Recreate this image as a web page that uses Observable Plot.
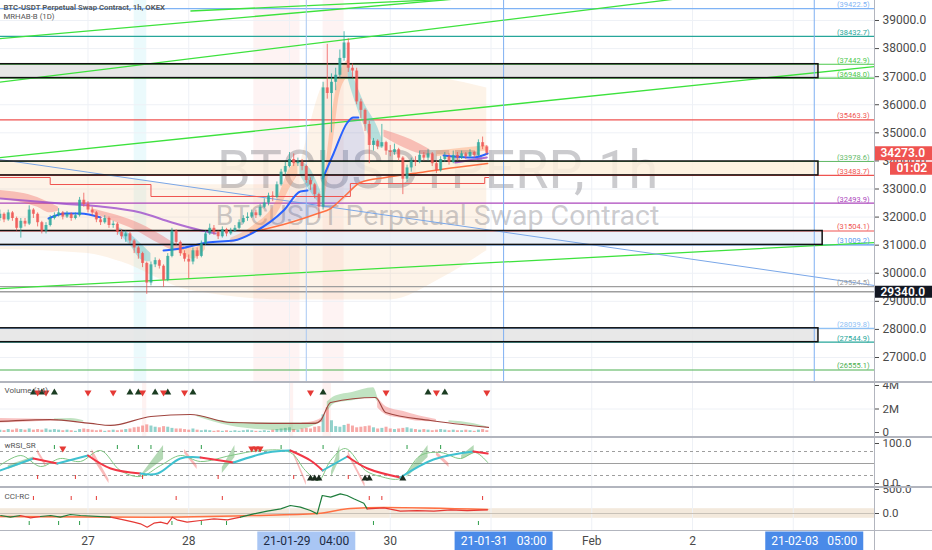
<!DOCTYPE html>
<html><head><meta charset="utf-8">
<script src="https://cdn.jsdelivr.net/npm/d3@7"></script>
<script src="https://cdn.jsdelivr.net/npm/@observablehq/plot@0.6"></script>
<style>
body{margin:0;background:#fff;}
#chart{position:relative;width:932px;height:550px;overflow:hidden;background:#fff;font-family:Roboto,"Noto Sans",sans-serif;}
#chart > *{position:absolute;}
.sep{background:#b2b5be;}
</style></head><body><div id="chart"></div>
<script>
// ---------------- DATA ----------------
// hours counted from 2021-01-29 00:00; first candle 2021-01-26 03:00
const candleStartHour = -69;
const firstOpen = 31950;
const close = [32100,31900,32150,31950,31600,31850,31750,32250,32100,31800,
 31500,31700,31950,32050,32150,32000,32100,31950,32050,32600,
 32450,32250,32150,31900,31800,31950,31700,31750,31450,31300,
 31400,31150,30900,30700,30350,29650,30300,30450,30250,29750,
 30600,31500,31100,30700,30500,30400,30800,30600,31050,31400,
 31600,31450,31300,31550,31400,31500,31600,31800,31950,32000,
 32150,32050,32350,32500,32750,32700,33150,33600,33800,34050,
 33900,33950,33800,33300,33150,32800,32350,36600,36400,36800,
 37050,37650,38200,37300,37200,36100,35800,35300,34550,34700,
 34500,34650,34350,34300,34400,34100,33350,33750,34000,33950,
 34200,34100,34250,33900,33650,34050,34150,33950,34200,34100,
 34250,34150,34300,34200,34650,34500,34273];
const high = [32250,32150,32250,32200,32000,31950,31950,32400,32300,32150,
 31850,31800,32050,32150,32300,32200,32200,32150,32150,32700,
 32850,32550,32350,32200,32000,32050,32000,31850,31800,31550,
 31500,31450,31200,30950,30750,30400,30400,30550,30500,30300,
 30700,31600,31550,31150,30800,30650,30900,30900,31150,31500,
 31750,31700,31500,31650,31600,31600,31700,31900,32050,32150,
 32250,32250,32450,32650,32850,32900,33250,33700,33950,34300,
 34250,34100,34050,33850,33400,33200,32850,36800,38150,37100,
 37300,37950,38600,38350,37450,37300,36200,35850,35400,34800,
 34750,35300,34700,34550,34600,34450,34150,33850,34100,34150,
 34350,34300,34400,34300,34000,34150,34300,34250,34350,34300,
 34350,34300,34400,34350,34750,34850,34550];
const low = [31850,31800,31850,31850,31500,31250,31650,31700,31950,31650,
 31400,31400,31650,31900,32000,31900,31950,31850,31900,32000,
 32350,32150,32050,31800,31700,31750,31600,31600,31350,31200,
 31100,31050,30700,30500,30200,29250,29550,30200,30150,29500,
 29700,30550,31000,30600,30400,29800,30300,30500,30550,31000,
 31350,31350,31200,31250,31300,31350,31450,31550,31750,31850,
 31950,31950,32000,32300,32400,32550,32650,33100,33500,33750,
 33800,33800,33650,33200,32950,32650,31950,32250,36200,35000,
 36500,36950,37550,37150,36950,36000,35500,35050,33900,34350,
 34400,34450,34200,34150,34200,34000,32800,33250,33600,33800,
 33900,34000,34000,33800,33550,33600,33950,33850,33900,34000,
 34050,34050,34100,34100,34150,34400,34200];
// volume in millions
const volume = [0.2,0.15,0.25,0.2,0.3,0.25,0.2,0.3,0.2,0.25,
 0.2,0.3,0.2,0.25,0.2,0.15,0.2,0.15,0.1,0.25,
 0.3,0.25,0.2,0.15,0.2,0.1,0.15,0.2,0.15,0.2,
 0.25,0.3,0.4,0.45,0.55,0.65,0.55,0.45,0.4,0.5,
 0.45,0.35,0.3,0.3,0.25,0.2,0.3,0.2,0.15,0.2,
 0.15,0.1,0.15,0.1,0.15,0.1,0.15,0.1,0.15,0.2,
 0.15,0.1,0.1,0.15,0.1,0.2,0.25,0.3,0.35,0.4,
 0.25,0.2,0.3,0.35,0.3,0.45,0.5,1.5,2.1,1.0,
 0.5,0.45,0.6,0.7,0.55,0.4,0.45,0.5,0.55,0.4,
 0.3,0.35,0.45,0.3,0.25,0.3,0.35,0.4,0.3,0.25,
 0.2,0.25,0.2,0.15,0.2,0.25,0.2,0.15,0.2,0.15,
 0.15,0.2,0.15,0.1,0.2,0.25,0.15];

const levelPrices = [39422.5,38432.7,37442.9,36948.0,35463.3,33978.6,33483.7,32493.9,31504.1,31009.2,29524.5,28039.8,27544.9,26555.1];
const zoneTop = [37442.9,33978.6,31504.1,28039.8];
const zoneBottom = [36948.0,33483.7,31009.2,27544.9];
const zoneStartHour = [-72,-72,-72,-72];
const zoneEndHour = [126,126,127,126];
const markPrice = 29340;
const lastPrice = 34273;
const countdown = "01:02";

const trendX1 = [-69,-23.6,-69,-69,-69,-69];
const trendY1 = [38357,39338,36807,34116,29455,34050];
const trendX2 = [60,50,100,139.35,139.35,139.35];
const trendY2 = [40030,39840,39913,37360,31094,29563];
const trendKind = ["green","green","green","green","green","blue"];

const vlineHours = [4,51,125];
const priceTicks = [27000,28000,29000,30000,31000,32000,33000,34000,35000,36000,37000,38000,39000];
const dayHours = [-48,-24,0,24,48,72,96,120];

// session shading (hours)
const bandStart = [-37,-8.5,8];
const bandEnd = [-34,2.5,13];
const bandKind = ["blue","pink","pink"];

// MRHAB (1D) shading
const mrHour = [-69,-48,-40,-24,0,8,13,24,36,47];
const mrTop = [33900,33900,33500,33150,33150,36700,37300,37200,36950,36600];
const mrBottom = [30850,30700,30400,29400,29050,29050,29050,29050,29800,30800];

// moving-average ribbons on price
const ribHour = [-69,-60,-57,-55, -47,-42,-37,-31,-27,-25, -41,-38,-35,-33, -26,-23,-20,
 -14,-9,-3,0,2, 2.5,5,7.5, 8,9,10.5,12,14, 14,15,18,21,22, 22.5,29,33.5, 35,41,47];
const ribTop = [32950,32700,32500,32350, 32300,32100,31850,31400,31050,30950, 31650,31400,31000,30700, 30950,30900,31100,
 31250,31650,32600,33700,34000, 34000,33700,32900, 32700,34200,36000,37100,37600, 37500,37100,36000,35200,34800, 35100,34750,34400, 34350,34450,34550];
const ribBottom = [32650,32350,32150,32220, 32150,31850,31550,31050,30800,30820, 31450,31000,30450,30400, 30700,30500,30850,
 31050,31400,32100,33000,33500, 33500,32900,32400, 32350,33200,34800,36400,37000, 36900,36400,35200,34500,34450, 34850,34350,34150, 34150,34250,34350];
const ribSeg = [0,0,0,0, 1,1,1,1,1,1, 2,2,2,2, 3,3,3, 4,4,4,4,4, 5,5,5, 6,6,6,6,6, 7,7,7,7,7, 8,8,8, 9,9,9];
const ribKind = ["down","down","down","down","down","down","down","down","down","down","cool","cool","cool","cool","up","up","up",
 "up","up","up","up","up","cool","cool","cool","up","up","up","up","up","cool","cool","cool","cool","cool","down","down","down","up","up","up"];

// light-blue fill between blue MA and orange MA
const bfHour = [-9,-1,4,6.7, 8,10.5,13.8,16.4,18];
const bfTop = [31450,32250,32950,33100, 33400,34264,35368,35546,34900];
const bfBottom = [31450,31800,31990,32127, 32300,32380,32700,33150,33250];
const bfSeg = [0,0,0,0,1,1,1,1,1];

const purpleHour = [-69,-54.5,-45,-35.5,-28,-21,-17.6, 39.5,47];
const purplePrice = [32661,32483,32376,32163,31807,31522,31415, 33943,34121];
const purpleSeg = [0,0,0,0,0,0,0,1,1];
const blueHour = [-57.4,-53.4,-49.8,-45, -30,-26,-19.5,-13.3,-8.6,-1.4,2.6,4.3, 7.9,10.5,13.8,15.2,16.4, 36.7,43.8,47.2];
const bluePrice = [31949,32127,32127,31985, 30810,30880,31094,31166,31450,32234,32911,32946, 33373,34264,35368,35546,35546, 34193,34121,34264];
const blueSeg = [0,0,0,0,1,1,1,1,1,1,1,1,2,2,2,2,2,3,3,3];
const orangeHour = [-9.3,0.2,6.7,9.8,13.3,16.9,22.9,31.2,39.5,47.2];
const orangePrice = [31450,31807,32127,32305,32768,33231,33409,33587,33765,33908];
const stepHour = [-69,-57,-33,14.5,46.5,47.5];
const stepPrice = [33409,33160,32733,33196,33409,33409];

// Volume pane
const vmaHour = [-69,-57,-47.4,-42.6,-33,-23.6,-14,0.2,6.2,7.4,9.8,20.5,22.9,33.6,47.4];
const vmaValue = [0.94,1.1,0.77,0.6,1.36,1.53,0.85,0.77,0.77,1.02,2.55,2.98,1.7,1.02,0.43];
const vrHour = [-69,-62,-55, -56,-52,-49, -22,-14,-5,0,4,7, 3,6,8, 9,11,15,20,21, 21,23,27,31,35, 38,44,47];
const vrTop = [1.2,1.15,1.1, 1.15,1.2,1.0, 1.5,0.9,0.8,0.8,0.78,0.9, 0.8,0.95,1.3, 2.6,3.1,3.4,3.8,3.0, 3.0,2.2,1.8,1.4,1.1, 1.0,0.75,0.5];
const vrBottom = [0.8,0.9,1.0, 1.05,0.95,0.9, 1.35,0.55,0.2,0.15,0.35,0.75, 0.75,0.75,0.9, 1.8,2.5,2.7,2.95,2.6, 2.1,1.5,1.2,0.95,0.9, 0.85,0.55,0.4];
const vrSeg = [0,0,0,1,1,1,2,2,2,2,2,2,3,3,3,4,4,4,4,4,5,5,5,5,5,6,6,6];
const vrKind = ["down","down","down","up","up","up","up","up","up","up","up","up","down","down","down","up","up","up","up","up","down","down","down","down","down","up","up","up"];
const volUpHours = [-61,-59,-56,-38,-36,-32,-29,-23,8,33,37];
const volDownHours = [-60,-58,-48,-42,-35,-30,-25,5,23,35,47];

// wRSI_SR pane
const rsiHour = [-69,-61,-55.3,-48,-42.6,-35.5,-31.4,-26,-21.2,-13.3,-5.2,0.2,5,7.9,13.8,18.6,26.4,34.3,43.8,47.2];
const rsiValue = [32.5,62.5,50,70,37.5,25,25,62.5,65,52.5,77.5,82.5,57.5,32.5,67.5,37.5,15,60,80,75];
const rsiFastHour = [-69,-64,-59.3,-54.6,-49.8,-45,-40.3,-35.5,-30.7,-26,-21.2,-14,-6.9,0.2,3.8,6.9,9.8,13.3,18.1,21.7,26.4,31.2,36,40.7,44.3,47.2];
const rsiFastValue = [45,70,42.5,62.5,55,82.5,32.5,17.5,45,70,55,70,82.5,77.5,32.5,7.5,57.5,87.5,32.5,17.5,12.5,70,77.5,62.5,77.5,52.5];
const rrHour = [-67,-61, -35,-30, -16,-13, 10,12, 28,33, 41,44, -60,-58, -47,-43, -25,-22, 1,4, 14,18, 35,38];
const rrTop = [45,66, 25,95, 40,95, 30,95, 25,95, 70,95, 85,50, 85,10, 85,45, 80,5, 80,0, 80,50];
const rrBottom = [35,58, 20,60, 25,65, 15,60, 15,65, 60,75, 75,40, 65,0, 75,35, 70,-5, 70,-10, 70,40];
const rrSeg = [0,0,1,1,2,2,3,3,4,4,5,5,6,6,7,7,8,8,9,9,10,10,11,11];
const rrKind = ["up","up","up","up","up","up","up","up","up","up","up","up","down","down","down","down","down","down","down","down","down","down","down","down"];
const rsiTopTicks = [-56,-41,-36,-33,-21,-2,8,28,36];
const rsiBottomTicks = [-60,-51,-35,-17,1,14];
const rsiDownMarks = [-54,-9,-8,-7];
const rsiUpMarks = [5,6,7,18,19,27];

// CCI-RC pane
const cciHour = [-68.8,-66.5,-64.1,-61.7,-59.3,-56.9,-54.6,-52.2,-49.8,-42.6,-39.5,-37.1,-35.5,-33.9,-32.3,-30.7,-29.1,-27.9,-26.8,-24.4,-21.2,-18,-14.8,-11.7,-8.5,-5.3,-2.1,0.2,2.6,5,6.6,7.8,9.8,12.1,13.7,15.3,17.7,18.5,22.5,26.4,30.4,34.4,38.4,42.3,47.1];
const cciValue = [-42,-76,-42,-90,-62,-42,-76,-21,-42,-76,-132,-181,-215,-285,-201,-181,-215,-76,-132,-181,-146,-111,-132,-76,-7,49,97,167,132,62,-7,375,340,410,375,306,215,97,118,49,62,49,76,62,76];
const sigHour = [-69,-33,-9,6.7,14.5,22.5,47.2];
const sigValue = [-62,-76,-42,0,104,125,83];
const cciTopTicks = [-61,-52,-46,-27,-16,19,22,46];
const cciBottomTicks = [-62,-55,-50,-28,-21,-15,20,45];

// time axis
const timeTickHour = [-48,-24,24,72,96];
const timeTickLabel = ["27","28","30","Feb","2"];
const hlHour = [4,51,125];
const hlLabel = ["21-01-29\u00a0\u00a0\u00a004:00","21-01-31\u00a0\u00a0\u00a003:00","21-02-03\u00a0\u00a0\u00a005:00"];

// ---------------- STYLE ----------------
const G = "#26a69a", R = "#ef5350";
const levelColors = ["#7fb3f5","#26a69a","#4cc94c","#4cc94c","#ef5350","#66bb6a","#ef5350","#ab47bc","#ef5350","#5b9bf0","#9e9e9e","#8fc1f5","#26a69a","#4caf50"];
const zoneFills = ["#e2e2e2","#fdf0dc","#e8eef8","#e4e4e4"];
const ribColor = {down:"#ef5350", up:"#ff8a50", cool:"#26b5c6"};
const bandColor = {blue:"rgba(0,188,212,0.08)", pink:"rgba(239,83,80,0.07)"};
const trendColor = {green:"#3de23d", blue:"#7aa7e8"};
const FONT = "Roboto, 'Noto Sans', sans-serif";
const XD = [-68.84, 139.35];

// ---------------- BUILD ----------------
const candles = close.map((c,i) => ({h: candleStartHour + i, o: i ? close[i-1] : firstOpen, c, hi: high[i], lo: low[i], v: volume[i]}));
candles.forEach(d => d.col = d.c >= d.o ? G : R);
const zip = (keys, ...arrs) => arrs[0].map((_, i) => Object.fromEntries(keys.map((k, j) => [k, arrs[j][i]])));
const levels = zip(["p","col"], levelPrices, levelColors);
const zones = zip(["x1","x2","top","bot","fill"], zoneStartHour, zoneEndHour, zoneTop, zoneBottom, zoneFills);
const trends = zip(["x1","y1","x2","y2","k"], trendX1, trendY1, trendX2, trendY2, trendKind);
const bands = zip(["x1","x2","k"], bandStart, bandEnd, bandKind);
const mr = zip(["h","t","b"], mrHour, mrTop, mrBottom);
const rib = zip(["h","t","b","s","k"], ribHour, ribTop, ribBottom, ribSeg, ribKind);
const bf = zip(["h","t","b","s"], bfHour, bfTop, bfBottom, bfSeg);
const purple = zip(["h","p","s"], purpleHour, purplePrice, purpleSeg);
const blue = zip(["h","p","s"], blueHour, bluePrice, blueSeg);
const orange = zip(["h","p"], orangeHour, orangePrice);
const step = zip(["h","p"], stepHour, stepPrice);
const vma = zip(["h","v"], vmaHour, vmaValue);
const vr = zip(["h","t","b","s","k"], vrHour, vrTop, vrBottom, vrSeg, vrKind);
const rr = zip(["h","t","b","s","k"], rrHour, rrTop, rrBottom, rrSeg, rrKind);

function runs(pts, colourOf) {
  const out = []; let seg = -1, cur = null;
  for (let i = 0; i < pts.length - 1; i++) {
    const c = colourOf(pts[i], pts[i+1]);
    if (c !== cur) { seg++; cur = c; out.push({...pts[i], seg, c}); }
    out.push({...pts[i+1], seg, c});
  }
  return out;
}
const rsi = runs(zip(["h","v"], rsiHour, rsiValue), (a,b) => b.v >= a.v ? "#3fc1d0" : "#f23645");
const sigAt = d3.scaleLinear(sigHour, sigValue);
const cci = runs(zip(["h","v"], cciHour, cciValue), (a,b) => (a.v + b.v)/2 >= sigAt((a.h + b.h)/2) ? "#1e7d3c" : "#e53935");

const baseStyle = {fontFamily: FONT, fontSize: "12px", color: "#4a4a4a", background: "transparent", overflow: "hidden"};
const panelStyle = {...baseStyle, fontSize: "11.5px", overflow: "visible"};
function pane(height, y, marks, style = baseStyle) {
  return Plot.plot({width: 932, height, marginLeft: 0, marginRight: 58, marginTop: 0, marginBottom: 0,
    x: {domain: XD, axis: null}, y, color: {type: "identity"}, style, marks});
}
const title = (t) => Plot.text([t], {frameAnchor: "top-left", dx: 4, dy: 8, lineAnchor: "middle", fontSize: 8, fill: "#555"});

const main = pane(381, {domain: [26145.6, 39712], axis: "right", ticks: priceTicks, tickFormat: d => d.toFixed(1), tickSize: 4, tickPadding: 4, label: null}, [
  Plot.rect(bands, {x1: "x1", x2: "x2", fill: d => bandColor[d.k]}),
  Plot.ruleY(priceTicks, {stroke: "#eef1f6"}),
  Plot.ruleX(dayHours, {stroke: "#eef1f6"}),
  Plot.areaY(mr, {x: "h", y1: "b", y2: "t", fill: "#f5c28a", fillOpacity: 0.2, curve: "monotone-x"}),
  Plot.text(["BTCUSDTPERP, 1h"], {frameAnchor: "middle", dy: -20, fontSize: 54, fill: "#6e6e78", fillOpacity: 0.36, lineAnchor: "middle"}),
  Plot.text(["BTCUSDT Perpetual Swap Contract"], {frameAnchor: "middle", dy: 25, fontSize: 28.5, fill: "#6e6e78", fillOpacity: 0.36, lineAnchor: "middle"}),
  Plot.rect(zones, {x1: "x1", x2: "x2", y1: "bot", y2: "top", fill: "fill", fillOpacity: 0.85}),
  Plot.ruleY(levels, {y: "p", stroke: "col", strokeWidth: 1.2}),
  Plot.ruleY([markPrice], {stroke: "#9e9e9e", strokeWidth: 1.5}),
  Plot.link(trends, {x1: "x1", y1: "y1", x2: "x2", y2: "y2", stroke: d => trendColor[d.k], strokeWidth: d => d.k === "blue" ? 1 : 1.3, clip: true}),
  Plot.ruleX(vlineHours, {stroke: (d, i) => i ? "#7fb0f2" : "#a9c8f2", strokeWidth: 1}),
  Plot.areaY(bf, {x: "h", y1: "b", y2: "t", z: "s", fill: "#2962ff", fillOpacity: 0.14, curve: "monotone-x"}),
  Plot.areaY(rib, {x: "h", y1: "b", y2: "t", z: "s", fill: d => ribColor[d.k], fillOpacity: 0.33, curve: "monotone-x"}),
  Plot.line(purple, {x: "h", y: "p", z: "s", stroke: "#9c4dcc", strokeWidth: 2, strokeOpacity: 0.8, curve: "monotone-x"}),
  Plot.line(step, {x: "h", y: "p", stroke: "#ef5350", strokeWidth: 1, curve: "step-after"}),
  Plot.line(orange, {x: "h", y: "p", stroke: "#ff7043", strokeWidth: 1.5, curve: "monotone-x"}),
  Plot.line(blue, {x: "h", y: "p", z: "s", stroke: "#2962ff", strokeWidth: 2, curve: "monotone-x"}),
  Plot.rect(zones, {x1: "x1", x2: "x2", y1: "bot", y2: "top", fill: "none", stroke: "#111", strokeWidth: 1.5}),
  Plot.ruleX(candles, {x: "h", y1: "lo", y2: "hi", stroke: "col", strokeOpacity: 0.75, strokeWidth: 1}),
  Plot.ruleX(candles, {x: "h", y1: "o", y2: "c", stroke: "col", strokeOpacity: 0.75, strokeWidth: 3}),
  Plot.text(levels, {y: "p", text: d => `(${d.p.toFixed(1)})`, frameAnchor: "right", dx: -5, dy: -4, fill: "col", fontSize: 7.5}),
  Plot.text(["BTC-USDT Perpetual Swap Contract, 1h, OKEX"], {frameAnchor: "top-left", dx: 3, dy: 7, lineAnchor: "middle", fontSize: 7.8, fontWeight: 600, fill: "#555"}),
  Plot.text(["MRHAB-B (1D)"], {frameAnchor: "top-left", dx: 3, dy: 15.5, lineAnchor: "middle", fontSize: 7.8, fill: "#555"})
]);

const volPane = pane(54, {domain: [-0.34, 4.255], axis: "right", ticks: [0,2,4], tickFormat: d => d ? d + "M" : "0", tickSize: 4, tickPadding: 4, label: null}, [
  Plot.rect(zip(["x1","x2"], [-35,0,8], [-34,1,10]), {x1: "x1", x2: "x2", fill: "rgba(239,83,80,0.08)"}),
  Plot.ruleX(dayHours, {stroke: "#eef1f6"}),
  Plot.ruleY([2], {stroke: "#eef1f6"}),
  Plot.ruleX(candles, {x: "h", y1: 0, y2: "v", stroke: "col", strokeOpacity: 0.5, strokeWidth: 3}),
  Plot.areaY(vr, {x: "h", y1: "b", y2: "t", z: "s", fill: d => d.k === "up" ? "#4caf50" : "#ef5350", fillOpacity: 0.35, curve: "monotone-x"}),
  Plot.line(vma, {x: "h", y: "v", stroke: "#a0453f", strokeWidth: 1.2, curve: "monotone-x"}),
  Plot.dot(volUpHours, {x: d => d, frameAnchor: "top", dy: 10, symbol: "triangle", r: 2.6, fill: "#1b3d22", stroke: "none"}),
  Plot.dot(volDownHours, {x: d => d, frameAnchor: "top", dy: 10, symbol: "triangle", rotate: 180, r: 2.6, fill: "#e53935", stroke: "none"}),
  title("Volume (14)")
], panelStyle);

const rsiPane = pane(50, {domain: [-10, 115], axis: "right", ticks: [0,100], tickFormat: d => d.toFixed(1), tickSize: 4, tickPadding: 4, label: null}, [
  Plot.ruleX(dayHours, {stroke: "#eef1f6"}),
  Plot.ruleY([80,20], {stroke: "#9e9e9e", strokeDasharray: "3,3"}),
  Plot.ruleY([50], {stroke: "#9e9e9e"}),
  Plot.areaY(rr, {x: "h", y1: "b", y2: "t", z: "s", fill: d => d.k === "up" ? "#43a047" : "#ef5350", fillOpacity: 0.4}),
  Plot.line(rsiFastHour.map((h,i) => ({h, v: rsiFastValue[i]})), {x: "h", y: "v", stroke: "#81c784", strokeWidth: 1, curve: "catmull-rom"}),
  Plot.line(rsi, {x: "h", y: "v", z: "seg", stroke: "c", strokeWidth: 2, curve: "catmull-rom"}),
  Plot.ruleX(rsiTopTicks, {x: d => d, insetTop: 8, insetBottom: 38, stroke: "#2e9d4a"}),
  Plot.ruleX(rsiBottomTicks, {x: d => d, insetTop: 38, insetBottom: 8, stroke: "#e53935"}),
  Plot.dot(rsiDownMarks, {x: d => d, frameAnchor: "top", dy: 11, symbol: "triangle", rotate: 180, r: 2.6, fill: "#e53935"}),
  Plot.dot(rsiUpMarks, {x: d => d, frameAnchor: "bottom", dy: -9, symbol: "triangle", r: 2.6, fill: "#1b2a1e"}),
  title("wRSI_SR")
], panelStyle);

const cciPane = pane(42, {domain: [-354, 521], axis: "right", ticks: [0,500], tickFormat: d => d.toFixed(1), tickSize: 4, tickPadding: 4, label: null}, [
  Plot.rect([0], {y1: -100, y2: 100, fill: "#f3e9dc"}),
  Plot.ruleX(dayHours, {stroke: "#eef1f6"}),
  Plot.ruleY([0], {stroke: "#c9c2b8"}),
  Plot.line(sigHour.map((h,i) => ({h, v: sigValue[i]})), {x: "h", y: "v", stroke: "#ff7043", strokeWidth: 1.5, curve: "monotone-x"}),
  Plot.line(cci, {x: "h", y: "v", z: "seg", stroke: "c", strokeWidth: 1.2}),
  Plot.ruleX(cciTopTicks, {x: d => d, insetTop: 8, insetBottom: 30, stroke: "#e53935"}),
  Plot.ruleX(cciBottomTicks, {x: d => d, insetTop: 33, insetBottom: 5, stroke: "#2e9d4a"}),
  title("CCI-RC")
], panelStyle);

const timePane = Plot.plot({width: 932, height: 19, marginLeft: 0, marginRight: 58, marginTop: 0, marginBottom: 0,
  x: {domain: XD, axis: null}, y: {axis: null}, color: {type: "identity"}, style: baseStyle,
  marks: [
    Plot.text(timeTickLabel, {x: (d,i) => timeTickHour[i], frameAnchor: "middle", fontSize: 12, fill: "#4a4a4a"}),
    Plot.ruleX(hlHour, {x: d => d, stroke: (d,i) => i ? "#4a8ae8" : "#a9c6f4", strokeWidth: 98, insetTop: 0.5, insetBottom: 0}),
    Plot.text(hlLabel, {x: (d,i) => hlHour[i], frameAnchor: "middle", fontSize: 12, fill: (d,i) => i ? "#ffffff" : "#1d2b44"})
  ]});

const tags = Plot.plot({width: 58, height: 381, marginLeft: 0, marginRight: 0, marginTop: 0, marginBottom: 0,
  x: {axis: null, domain: [0,1]}, y: {domain: [26145.6, 39712], axis: null}, color: {type: "identity"}, style: baseStyle,
  marks: [
    Plot.ruleY([lastPrice], {stroke: "#ef5350", strokeWidth: 14}),
    Plot.ruleY([lastPrice], {stroke: "#ef5350", strokeWidth: 13, dy: 15, insetLeft: 16}),
    Plot.ruleY([markPrice], {stroke: "#131722", strokeWidth: 12}),
    Plot.text([lastPrice], {y: d => d, text: d => d.toFixed(1), frameAnchor: "left", dx: 6, fill: "#fff", fontSize: 12, fontWeight: 600}),
    Plot.text([lastPrice], {y: d => d, text: () => countdown, frameAnchor: "left", dx: 22, dy: 15, fill: "#fff", fontSize: 12, fontWeight: 600}),
    Plot.text([markPrice], {y: d => d, text: d => d.toFixed(1), frameAnchor: "left", dx: 6, fill: "#fff", fontSize: 12, fontWeight: 600})
  ]});

const root = document.getElementById("chart");
function place(el, x, y) { el.style.left = x + "px"; el.style.top = y + "px"; root.appendChild(el); }
place(main, 0, 0);
place(volPane, 0, 382);
place(rsiPane, 0, 437);
place(cciPane, 0, 488);
place(timePane, 0, 531);
place(tags, 874, 0);
function sep(x, y, w, h) { const d = document.createElement("div"); d.className = "sep"; d.style.width = w + "px"; d.style.height = h + "px"; place(d, x, y); }
sep(0, 380.5, 932, 2);
sep(0, 435.5, 932, 2);
sep(0, 486, 932, 2);
sep(0, 529.5, 932, 1.5);
sep(874, 0, 1, 550);
</script></body></html>
